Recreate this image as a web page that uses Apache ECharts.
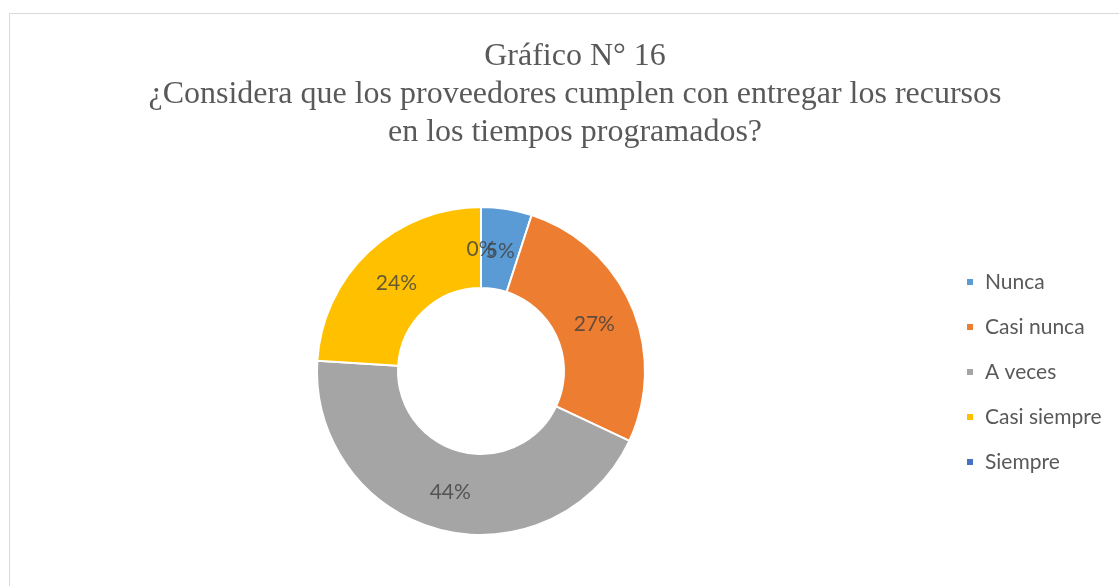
<!DOCTYPE html>
<html>
<head>
<meta charset="utf-8">
<script src="https://cdn.jsdelivr.net/npm/echarts@6/dist/echarts.min.js"></script>
<style>
  html, body { margin: 0; padding: 0; background: #fff; }
  #chart { width: 1119px; height: 586px; }
</style>
</head>
<body>
<div id="chart"></div>
<script>
// Survey answers (percent of respondents)
const categories = ['Nunca', 'Casi nunca', 'A veces', 'Casi siempre', 'Siempre'];
const percents = [5, 27, 44, 24, 0];
const colors = ['#5B9BD5', '#ED7D31', '#A5A5A5', '#FFC000', '#4472C4'];
const titleLines = [
  'Gráfico N° 16',
  '¿Considera que los proveedores cumplen con entregar los recursos',
  'en los tiempos programados?'
];

const CENTER = [481, 371];
const R_INNER = 83;
const R_OUTER = 164;

// Value labels sit at the middle of each ring segment; they are placed on a
// polar grid that shares the donut's centre so that zero answers get one too.
const total = percents.reduce((a, b) => a + b, 0);
let acc = 0;
const labelPoints = percents.map((v, i) => {
  const mid = acc + v / 2;
  acc += v;
  return { value: [((R_INNER + R_OUTER) / 2) / R_OUTER, mid], idx: i };
}).reverse(); // first category painted last, on top

const chart = echarts.init(document.getElementById('chart'));
chart.setOption({
  animation: false,
  backgroundColor: '#ffffff',
  color: colors,
  graphic: [{
    type: 'rect',
    shape: { x: 9.5, y: 13.5, width: 1200, height: 700 },
    style: { fill: 'none', stroke: '#d9d9d9', lineWidth: 1 },
    silent: true
  }],
  title: {
    text: titleLines.join('\n'),
    left: 570,
    top: 33,
    textAlign: 'center',
    textStyle: {
      fontFamily: 'Liberation Serif',
      fontWeight: 'normal',
      fontSize: 32,
      lineHeight: 38,
      color: '#595959'
    }
  },
  legend: {
    orient: 'vertical',
    left: 960,
    top: 266,
    itemWidth: 8,
    itemHeight: 8,
    itemGap: 23,
    icon: 'rect',
    data: categories,
    textStyle: {
      fontFamily: 'Lato',
      fontSize: 21,
      lineHeight: 22,
      color: '#595959',
      padding: [0, 0, 0, 6]
    }
  },
  polar: { center: CENTER, radius: R_OUTER },
  angleAxis: {
    type: 'value', min: 0, max: total, startAngle: 90, clockwise: true, show: false
  },
  radiusAxis: { type: 'value', min: 0, max: 1, show: false },
  series: [{
    type: 'pie',
    center: CENTER,
    radius: [R_INNER, R_OUTER],
    startAngle: 90,
    clockwise: true,
    avoidLabelOverlap: false,
    itemStyle: { borderColor: '#ffffff', borderWidth: 2 },
    label: { show: false },
    labelLine: { show: false },
    data: categories.map((name, i) => ({ name, value: percents[i] }))
  }, {
    type: 'scatter',
    coordinateSystem: 'polar',
    symbolSize: 0,
    silent: true,
    z: 5,
    label: {
      show: true,
      position: 'inside',
      offset: [0, 2],
      formatter: p => percents[p.data.idx] + '%',
      fontFamily: 'Lato',
      fontSize: 21,
      color: '#404040'
    },
    data: labelPoints
  }]
});
</script>
</body>
</html>
